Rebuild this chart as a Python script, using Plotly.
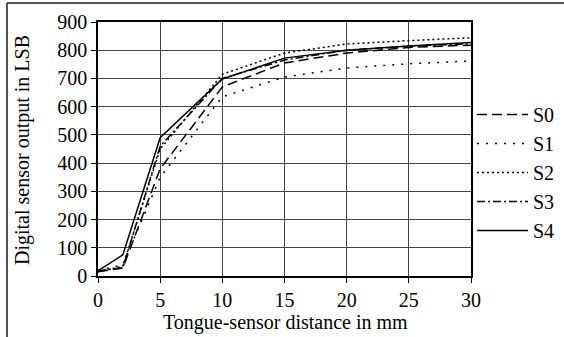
import plotly.graph_objects as go

distance_mm = [0, 2, 5, 10, 15, 20, 25, 30]
s0 = [15, 28, 380, 670, 755, 790, 810, 818]
s1 = [20, 40, 350, 635, 705, 737, 752, 762]
s2 = [15, 35, 450, 715, 790, 822, 834, 844]
s3 = [18, 30, 460, 700, 765, 800, 815, 822]
s4 = [18, 75, 490, 698, 772, 800, 815, 827]
names = ["S0", "S1", "S2", "S3", "S4"]
series = [s0, s1, s2, s3, s4]
dashes = ["10px,5px", "2px,7px", "2px,3px", "8px,3px,2px,3px", "solid"]
x_title = "Tongue-sensor distance in mm"
y_title = "Digital sensor output in LSB"

W, H = 564, 337
ML, MR, MT, MB = 98, 93, 22, 61
PW, PH = W - ML - MR, H - MT - MB

fig = go.Figure()
for n, s, d in zip(names, series, dashes):
    fig.add_trace(go.Scatter(x=distance_mm, y=s, name=n, mode="lines",
                             line=dict(color="black", width=1.5, dash=d)))

def px2x(px):
    return (px - ML) / PW

def py2y(py):
    return (H - MB - py) / PH

fig.add_shape(type="line", xref="paper", yref="paper",
              x0=px2x(7), x1=px2x(7), y0=py2y(340), y1=py2y(3),
              line=dict(color="#555", width=2))
fig.add_shape(type="line", xref="paper", yref="paper",
              x0=px2x(7), x1=px2x(566), y0=py2y(3), y1=py2y(3),
              line=dict(color="#555", width=2))

font = dict(family="Liberation Serif, Times New Roman, DejaVu Serif, serif", size=20, color="black")

fig.add_annotation(text=x_title, xref="paper", yref="paper",
                   x=px2x(285), y=py2y(322), xanchor="center", yanchor="middle",
                   showarrow=False, font=font)
fig.add_annotation(text=y_title, xref="paper", yref="paper",
                   x=px2x(22), y=py2y(150), xanchor="center", yanchor="middle",
                   textangle=-90, showarrow=False, font=font)

fig.update_layout(
    width=W, height=H,
    margin=dict(l=ML, r=MR, t=MT, b=MB, autoexpand=False),
    paper_bgcolor="white", plot_bgcolor="white",
    font=font,
    showlegend=True,
    legend=dict(x=px2x(472), y=py2y(95), xanchor="left", yanchor="top",
                font=font, itemwidth=51, bgcolor="rgba(0,0,0,0)",
                tracegroupgap=0),
    xaxis=dict(range=[0, 30], tickvals=[0, 5, 10, 15, 20, 25, 30],
               showgrid=True, gridcolor="#444", gridwidth=1,
               showline=True, linecolor="black", linewidth=1.5, mirror=True,
               ticks="outside", ticklen=5, tickcolor="black",
               zeroline=False),
    yaxis=dict(range=[0, 900], tickvals=list(range(0, 901, 100)),
               showgrid=True, gridcolor="#444", gridwidth=1,
               showline=True, linecolor="black", linewidth=1.5, mirror=True,
               ticks="outside", ticklen=5, tickcolor="black",
               zeroline=False),
)
fig.write_html("out.html", config={"displayModeBar": False},
               post_script="document.body.style.margin='0';")
